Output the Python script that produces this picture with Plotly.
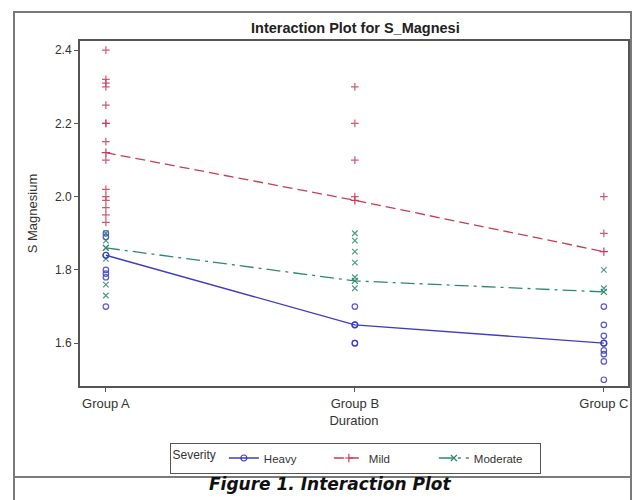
import plotly.graph_objects as go

# ---- data ----
groups = ["Group A", "Group B", "Group C"]
severities = ["Heavy", "Mild", "Moderate"]

mean_heavy = [1.84, 1.65, 1.60]
mean_mild = [2.12, 1.99, 1.85]
mean_moderate = [1.86, 1.77, 1.74]

heavy_A = [1.90, 1.89, 1.84, 1.80, 1.79, 1.78, 1.70]
heavy_B = [1.70, 1.65, 1.60, 1.60]
heavy_C = [1.70, 1.65, 1.62, 1.60, 1.58, 1.57, 1.55, 1.50]

mild_A = [2.40, 2.32, 2.31, 2.30, 2.25, 2.20, 2.20, 2.15, 2.10, 2.02, 2.00, 1.99, 1.97, 1.95, 1.93]
mild_B = [2.30, 2.20, 2.10, 2.00]
mild_C = [2.00, 1.90]

moderate_A = [1.90, 1.88, 1.86, 1.83, 1.76, 1.73]
moderate_B = [1.90, 1.88, 1.85, 1.82, 1.78, 1.75]
moderate_C = [1.80, 1.75]

y_ticks = [1.6, 1.8, 2.0, 2.2, 2.4]
y_tick_text = ["1.6", "1.8", "2.0", "2.2", "2.4"]

# ---- styles ----
col = {"Heavy": "#3c3cc8", "Mild": "#c83c5a", "Moderate": "#2e8a6e"}
sym = {"Heavy": "circle-open", "Mild": "cross-thin-open", "Moderate": "x-thin-open"}
dash = {"Heavy": "solid", "Mild": "10px,5px", "Moderate": "14px,5px,3px,5px"}
means = {"Heavy": mean_heavy, "Mild": mean_mild, "Moderate": mean_moderate}
obs = {
    "Heavy": [heavy_A, heavy_B, heavy_C],
    "Mild": [mild_A, mild_B, mild_C],
    "Moderate": [moderate_A, moderate_B, moderate_C],
}

fig = go.Figure()
FONT = "Liberation Sans, Arial, sans-serif"

for s in severities:
    xs, ys = [], []
    for g, vals in zip(groups, obs[s]):
        xs += [g] * len(vals)
        ys += vals
    fig.add_trace(go.Scatter(
        x=xs, y=ys, mode="markers", showlegend=False,
        marker=dict(symbol=sym[s], size=5.5, color=col[s], opacity=0.85,
                    line=dict(width=1.2, color=col[s])),
        hoverinfo="skip",
    ))

for s in severities:
    fig.add_trace(go.Scatter(
        x=groups, y=means[s], mode="lines+markers", name=s,
        line=dict(color=col[s], width=1.3, dash=dash[s]),
        marker=dict(symbol=sym[s], size=6, color=col[s],
                    line=dict(width=1.2, color=col[s])),
    ))

W, H = 634, 500
L, R, T, B = 80, 628, 41, 386
pw, ph = R - L, B - T

def px_x(x):
    return (x - L) / pw

def px_y(y):
    return (B - y) / ph

frame_col = "#7a7a7a"
shapes = [
    dict(type="rect", xref="paper", yref="paper",
         x0=px_x(14), x1=px_x(631), y0=px_y(520), y1=px_y(12),
         line=dict(color=frame_col, width=2), layer="below"),
    dict(type="line", xref="paper", yref="paper",
         x0=px_x(14), x1=px_x(631), y0=px_y(477), y1=px_y(477),
         line=dict(color=frame_col, width=2)),
]

annotations = [
    dict(text="<b>Interaction Plot for S_Magnesi</b>", xref="paper", yref="paper",
         x=px_x(355), y=px_y(28), showarrow=False, xanchor="center", yanchor="middle",
         font=dict(family=FONT, size=14.5, color="#222")),
    dict(text="<b><i>Figure 1. Interaction Plot</i></b>", xref="paper", yref="paper",
         x=px_x(330), y=px_y(484), showarrow=False, xanchor="center", yanchor="middle",
         font=dict(family="DejaVu Sans, Verdana, sans-serif", size=17, color="#111")),
]

fig.update_layout(
    width=W, height=H,
    margin=dict(l=L, r=W - R, t=T, b=H - B, autoexpand=False),
    paper_bgcolor="white", plot_bgcolor="white",
    font=dict(family=FONT, size=12, color="#333"),
    shapes=shapes, annotations=annotations,
    showlegend=True,
    legend=dict(
        orientation="h", x=px_x(355), y=px_y(458), xanchor="center", yanchor="middle",
        title=dict(text="Severity", side="left", font=dict(size=12)),
        bordercolor="#555", borderwidth=1, bgcolor="white",
        font=dict(size=11.5), entrywidth=60, entrywidthmode="pixels",
        itemwidth=30, tracegroupgap=0,
    ),
    xaxis=dict(
        type="category", range=[-0.104, 2.097],
        showline=True, mirror=True, linecolor="#555", linewidth=2,
        ticks="outside", ticklen=4, tickcolor="#555", showgrid=False, zeroline=False,
        title=dict(text="Duration", standoff=6, font=dict(size=13)),
        tickfont=dict(size=13),
    ),
    yaxis=dict(
        range=[1.483, 2.425], tickvals=y_ticks, ticktext=y_tick_text,
        showline=True, mirror=True, linecolor="#555", linewidth=2,
        ticks="outside", ticklen=4, tickcolor="#555", showgrid=False, zeroline=False,
        title=dict(text="S Magnesium", standoff=14, font=dict(size=13)),
        tickfont=dict(size=12),
    ),
)

fig.write_html(
    "out.html",
    config={"displayModeBar": False},
    post_script="document.body.style.margin='0';document.body.style.overflow='hidden';",
)
